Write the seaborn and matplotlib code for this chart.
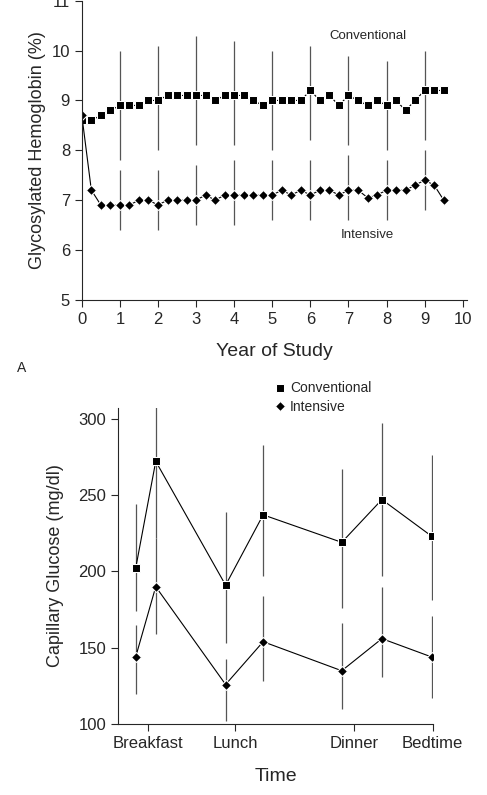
import numpy as np
import pandas as pd
import matplotlib
matplotlib.use("Agg")
import matplotlib.pyplot as plt
import seaborn as sns

# Panel A: glycosylated hemoglobin by year
years = [0, 0.25, 0.5, 0.75, 1, 1.25, 1.5, 1.75, 2, 2.25, 2.5, 2.75, 3, 3.25, 3.5, 3.75,
         4, 4.25, 4.5, 4.75, 5, 5.25, 5.5, 5.75, 6, 6.25, 6.5, 6.75, 7, 7.25, 7.5, 7.75,
         8, 8.25, 8.5, 8.75, 9, 9.25, 9.5]
conv_hba1c = [8.6, 8.6, 8.7, 8.8, 8.9, 8.9, 8.9, 9.0, 9.0, 9.1, 9.1, 9.1, 9.1, 9.1, 9.0, 9.1,
              9.1, 9.1, 9.0, 8.9, 9.0, 9.0, 9.0, 9.0, 9.2, 9.0, 9.1, 8.9, 9.1, 9.0, 8.9, 9.0,
              8.9, 9.0, 8.8, 9.0, 9.2, 9.2, 9.2]
int_hba1c = [8.7, 7.2, 6.9, 6.9, 6.9, 6.9, 7.0, 7.0, 6.9, 7.0, 7.0, 7.0, 7.0, 7.1, 7.0, 7.1,
             7.1, 7.1, 7.1, 7.1, 7.1, 7.2, 7.1, 7.2, 7.1, 7.2, 7.2, 7.1, 7.2, 7.2, 7.05, 7.1,
             7.2, 7.2, 7.2, 7.3, 7.4, 7.3, 7.0]
bar_years = [1, 2, 3, 4, 5, 6, 7, 8, 9]
conv_lo = [7.8, 8.0, 8.1, 8.1, 8.0, 8.2, 8.1, 8.0, 8.2]
conv_hi = [10.0, 10.1, 10.3, 10.2, 10.0, 10.1, 9.9, 9.8, 10.0]
int_lo = [6.4, 6.4, 6.5, 6.5, 6.6, 6.6, 6.6, 6.6, 6.8]
int_hi = [7.6, 7.6, 7.7, 7.8, 7.8, 7.8, 7.9, 7.8, 8.0]

# Panel B: capillary glucose through the day (hour of day)
meal_ticks = [7, 12, 18.8, 23.3]
meal_labels = ["Breakfast", "Lunch", "Dinner", "Bedtime"]
times = [6.3, 7.45, 11.45, 13.6, 18.1, 20.4, 23.25]
conv_glu = [202, 272, 191, 237, 219, 247, 223]
conv_glu_lo = [174, 222, 153, 197, 176, 197, 181]
conv_glu_hi = [244, 313, 239, 283, 267, 297, 276]
int_glu = [144, 190, 126, 154, 135, 156, 144]
int_glu_lo = [120, 159, 102, 128, 110, 131, 117]
int_glu_hi = [165, 222, 143, 184, 166, 190, 171]

sns.set_style("ticks")
plt.rcParams["font.family"] = ["Liberation Sans", "DejaVu Sans"]

fig = plt.figure(figsize=(4.87, 7.95), dpi=100)

# ---- panel A
ax1 = fig.add_axes([0.168, 0.623, 0.79, 0.376])
ax1.vlines(bar_years, conv_lo, conv_hi, color="#555555", lw=0.9)
ax1.vlines(bar_years, int_lo, int_hi, color="#555555", lw=0.9)
dfa = pd.DataFrame({"year": years + years,
                    "value": conv_hba1c + int_hba1c,
                    "group": ["Conventional"] * len(years) + ["Intensive"] * len(years)})
sns.lineplot(data=dfa, x="year", y="value", hue="group", style="group",
             markers={"Conventional": "s", "Intensive": "D"}, dashes=False,
             palette={"Conventional": "black", "Intensive": "black"},
             markersize=5.5, linewidth=0.8, legend=False, ax=ax1)
ax1.set_xlim(0, 10.1)
ax1.set_ylim(5, 11)
ax1.set_xticks(range(0, 11))
ax1.set_yticks(range(5, 12))
ax1.set_xlabel("Year of Study", fontsize=14, labelpad=12)
ax1.set_ylabel("Glycosylated Hemoglobin (%)", fontsize=13)
ax1.tick_params(labelsize=12, length=5, direction="out")
ax1.spines["right"].set_visible(False)
ax1.spines["top"].set_visible(False)
ax1.text(7.5, 10.3, "Conventional", fontsize=9.5, ha="center", va="center")
ax1.text(7.5, 6.3, "Intensive", fontsize=9.5, ha="center", va="center")
fig.text(0.045, 0.537, "A", fontsize=10, ha="center", va="center")

# ---- panel B
ax2 = fig.add_axes([0.242, 0.089, 0.648, 0.398])
ax2.vlines(times, conv_glu_lo, conv_glu_hi, color="#555555", lw=0.9)
ax2.vlines(times, int_glu_lo, int_glu_hi, color="#555555", lw=0.9)
dfb = pd.DataFrame({"time": times + times,
                    "value": conv_glu + int_glu,
                    "group": ["Conventional"] * len(times) + ["Intensive"] * len(times)})
sns.lineplot(data=dfb, x="time", y="value", hue="group", style="group",
             markers={"Conventional": "s", "Intensive": "D"}, dashes=False,
             palette={"Conventional": "black", "Intensive": "black"},
             markersize=5.5, linewidth=0.8, ax=ax2)
ax2.set_xlim(5.28, 23.35)
ax2.set_ylim(100, 307)
ax2.set_xticks(meal_ticks)
ax2.set_xticklabels(meal_labels)
ax2.set_yticks([100, 150, 200, 250, 300])
ax2.set_xlabel("Time", fontsize=14, labelpad=12)
ax2.set_ylabel("Capillary Glucose (mg/dl)", fontsize=13, labelpad=10)
ax2.tick_params(labelsize=12, length=5, direction="out")
ax2.spines["right"].set_visible(False)
ax2.spines["top"].set_visible(False)
leg = ax2.legend(loc="lower left", bbox_to_anchor=(0.48, 0.96), frameon=False,
                 fontsize=10, handlelength=0.6, handletextpad=0.4, borderpad=0,
                 labelspacing=0.3)
for h in leg.legend_handles:
    h.set_linestyle("none")

fig.savefig("out.png", dpi=100)
